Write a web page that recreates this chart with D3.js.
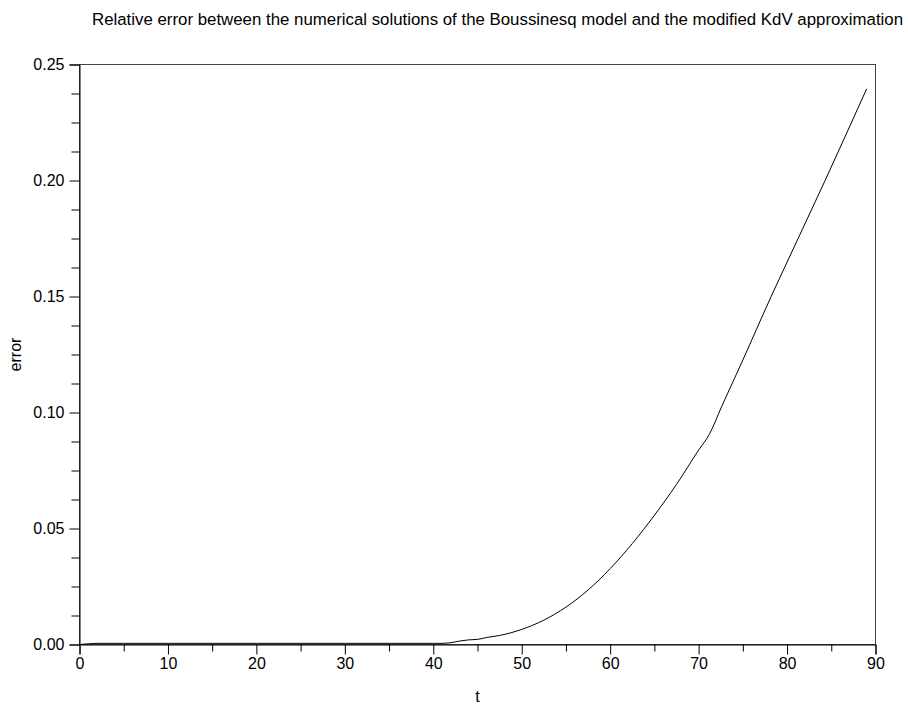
<!DOCTYPE html>
<html><head><meta charset="utf-8">
<script src="https://cdn.jsdelivr.net/npm/d3@7"></script>
<style>body{margin:0;background:#fff}svg{display:block}text{font-family:"Liberation Sans",Arial,sans-serif;fill:#000}</style>
</head><body>
<svg id="c" width="908" height="711"></svg>
<script>
const tValues = [0, 1, 2, 5, 10, 20, 30, 40, 41, 42, 43, 44, 45, 46, 47.5, 50, 52.5, 55, 57.5, 60, 62.5, 65, 67.5, 70, 71.2, 72.6, 75, 78.2, 80, 84.3, 89];
const errValues = [0, 0.0003, 0.0005, 0.0005, 0.0005, 0.0005, 0.0005, 0.0005, 0.0005, 0.0008, 0.0015, 0.002, 0.0022, 0.003, 0.0039, 0.0065, 0.0105, 0.0161, 0.0235, 0.0327, 0.0435, 0.0557, 0.069, 0.0838, 0.0905, 0.1025, 0.1226, 0.150, 0.1648, 0.200, 0.2395];
const xTicks = [0, 10, 20, 30, 40, 50, 60, 70, 80, 90];
const yTicks = [0, 0.05, 0.10, 0.15, 0.20, 0.25];
const titleText = "Relative error between the numerical solutions of the Boussinesq model and the modified KdV approximation";
const xLabel = "t", yLabel = "error";

const svg = d3.select("#c");
const L = 79.5, R = 875.5, T = 64.5, B = 644.5;
const x = d3.scaleLinear().domain([0, 90]).range([L, R]);
const y = d3.scaleLinear().domain([0, 0.25]).range([B, T]);

svg.append("rect").attr("x", L).attr("y", T).attr("width", R - L).attr("height", B - T)
  .attr("fill", "none").attr("stroke", "#444").attr("stroke-width", 1);

const xMinor = d3.range(0, 91, 5).filter(v => v % 10 !== 0);
const yMinor = d3.range(0, 0.2501, 0.0125).filter(v => Math.abs(Math.round(v / 0.05) * 0.05 - v) > 1e-6);
const xAxis = svg.append("g").attr("transform", `translate(0,${B})`)
  .call(d3.axisBottom(x).tickValues(xTicks).tickSize(10).tickPadding(3).tickFormat(d3.format("d")));
const xMin = svg.append("g").attr("transform", `translate(0,${B})`)
  .call(d3.axisBottom(x).tickValues(xMinor).tickSize(7).tickFormat(""));
const yAxis = svg.append("g").attr("transform", `translate(${L},0)`)
  .call(d3.axisLeft(y).tickValues(yTicks).tickSize(10).tickPadding(5).tickFormat(d3.format(".2f")));
const yMin = svg.append("g").attr("transform", `translate(${L},0)`)
  .call(d3.axisLeft(y).tickValues(yMinor).tickSize(8).tickFormat(""));
[xAxis, xMin, yAxis, yMin].forEach(g => {
  g.attr("font-family", null).attr("font-size", null);
  g.select(".domain").attr("stroke", "#000");
  g.selectAll(".tick line").attr("stroke", "#000");
  g.selectAll("text").style("font-size", "16px").style("font-family", "'Liberation Sans', Arial, sans-serif").attr("fill", "#000");
});
xMin.select(".domain").remove(); yMin.select(".domain").remove();

const line = d3.line().x((d, i) => x(tValues[i])).y(d => y(d)).curve(d3.curveMonotoneX);
svg.append("path").datum(errValues).attr("d", line).attr("fill", "none")
  .attr("stroke", "#000").attr("stroke-width", 1);

const title = svg.append("text").attr("x", 92).attr("y", 25)
  .style("font-family", "'Liberation Sans Narrow', 'Liberation Sans', Arial, sans-serif")
  .style("font-size", "14px").text(titleText);
const w = title.node().getComputedTextLength();
title.style("font-size", (14 * 811 / w).toFixed(2) + "px");
svg.append("text").attr("x", x(45)).attr("y", 702).attr("text-anchor", "middle").style("font-size", "16px").text(xLabel);
svg.append("text").attr("transform", `translate(21,${(T + B) / 2}) rotate(-90)`).attr("text-anchor", "middle").style("font-size", "16px").text(yLabel);
</script>
</body></html>
